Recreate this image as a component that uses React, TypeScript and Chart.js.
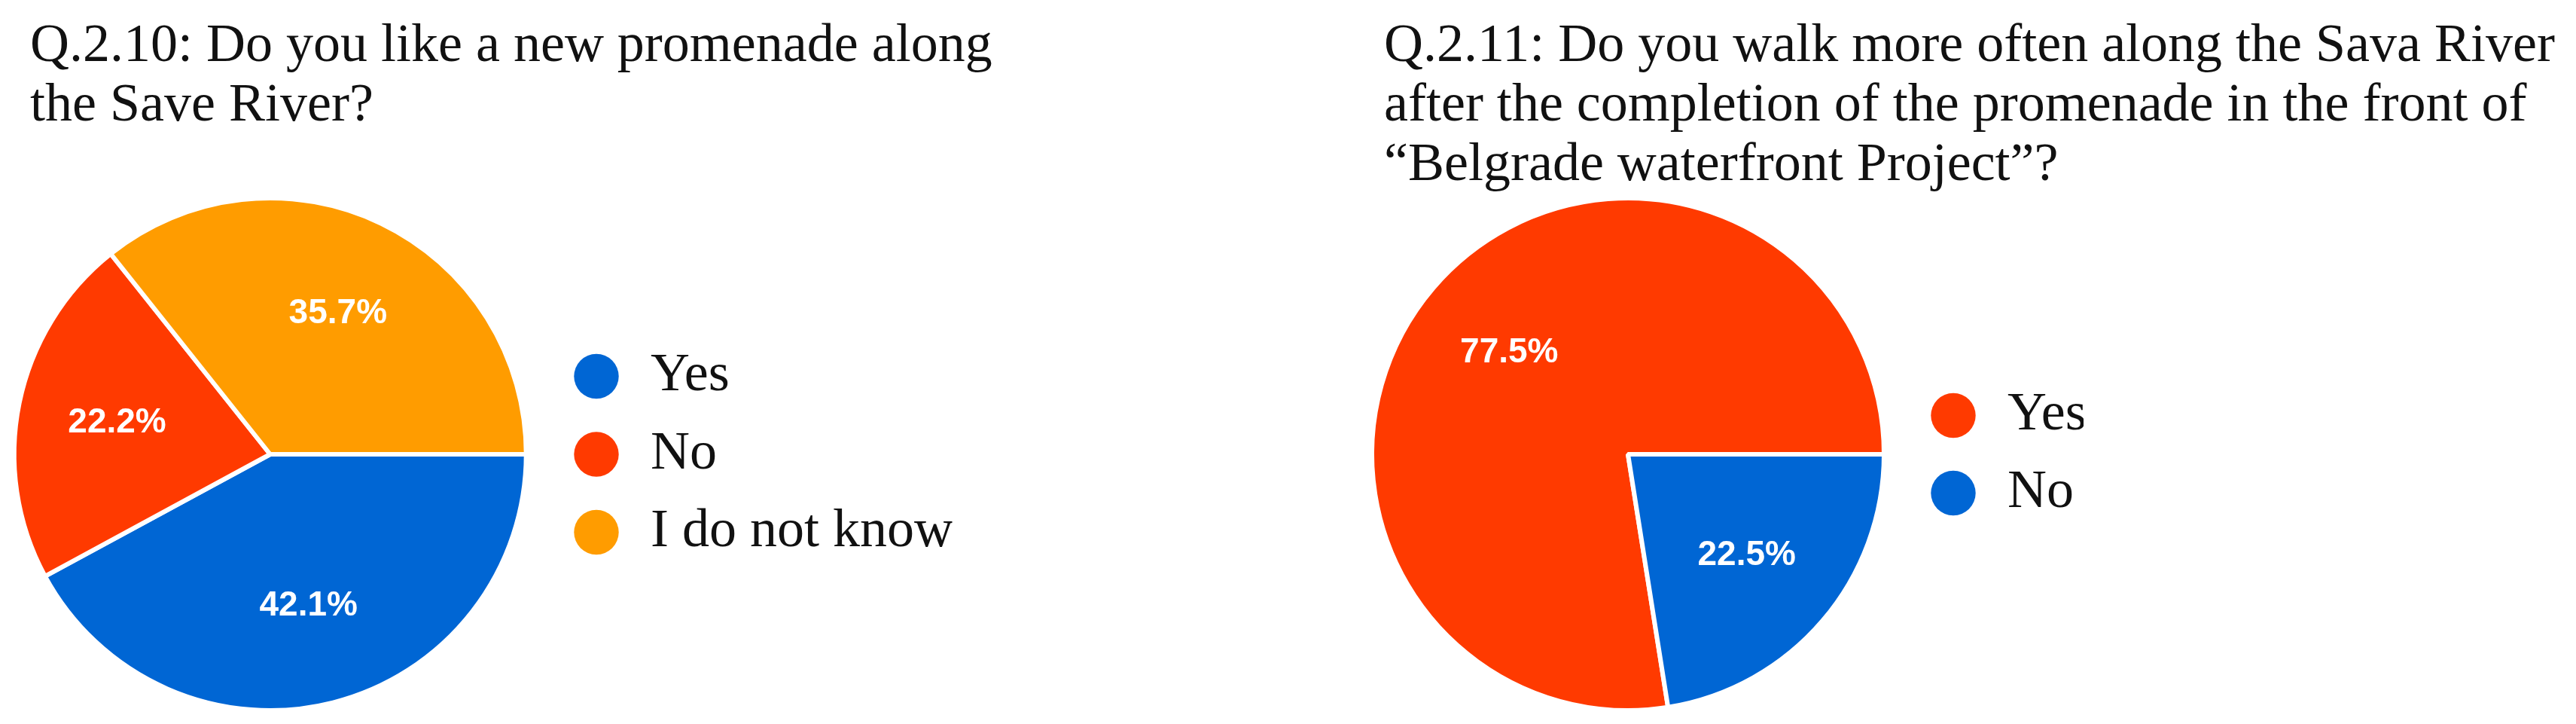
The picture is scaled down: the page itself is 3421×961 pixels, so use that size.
import React, { useEffect, useRef } from 'react';
import { Chart, registerables } from 'chart.js';

Chart.register(...registerables);

// ---------- data ----------
const leftTitle = ['Q.2.10: Do you like a new promenade along', 'the Save River?'];
const leftLabels = ['Yes', 'No', 'I do not know'];
const leftValues = [42.1, 22.2, 35.7];

const rightTitle = [
  'Q.2.11: Do you walk more often along the Sava River',
  'after the completion of the promenade in the front of',
  '\u201CBelgrade waterfront Project\u201D?',
];
const rightLabels = ['Yes', 'No'];
const rightValues = [77.5, 22.5];

// ---------- styles ----------
const BLUE = '#0066d4';
const RED = '#ff3a00';
const ORANGE = '#ff9c00';
const leftColors = [BLUE, RED, ORANGE];
const rightColors = [RED, BLUE];

const SERIF = '"Liberation Serif", "Times New Roman", serif';
const SANS = '"Liberation Sans", Arial, sans-serif';

const pctPlugin = {
  id: 'pctLabels',
  afterDatasetsDraw(chart: any) {
    const ctx = chart.ctx;
    const meta = chart.getDatasetMeta(0);
    const data = chart.data.datasets[0].data as number[];
    ctx.save();
    ctx.fillStyle = '#ffffff';
    ctx.font = `bold 46px ${SANS}`;
    ctx.textAlign = 'center';
    ctx.textBaseline = 'middle';
    meta.data.forEach((arc: any, i: number) => {
      const p = arc.getProps(['x', 'y', 'startAngle', 'endAngle', 'outerRadius'], true);
      const mid = (p.startAngle + p.endAngle) / 2;
      const r = p.outerRadius * 0.61;
      ctx.fillText(data[i].toFixed(1) + '%', p.x + Math.cos(mid) * r, p.y + Math.sin(mid) * r);
    });
    ctx.restore();
  },
};

type PieProps = {
  labels: string[];
  values: number[];
  colors: string[];
  rotation: number;
  left: number;
  width: number;
  padRight: number;
  legendPadding: number;
  legendMaxWidth: number;
};

function PieChart(props: PieProps) {
  const ref = useRef<HTMLCanvasElement | null>(null);
  useEffect(() => {
    if (!ref.current) return;
    const baseGen = (Chart as any).overrides.pie.plugins.legend.labels.generateLabels;
    const chart = new Chart(ref.current, {
      type: 'pie',
      data: {
        labels: props.labels,
        datasets: [
          {
            data: props.values,
            backgroundColor: props.colors,
            borderColor: '#ffffff',
            borderWidth: 6,
            hoverBorderWidth: 6,
            hoverOffset: 0,
          } as any,
        ],
      },
      options: {
        responsive: false,
        animation: false,
        devicePixelRatio: 1,
        rotation: props.rotation,
        events: [],
        layout: { padding: { left: 0, right: props.padRight, top: 260, bottom: 15 } },
        plugins: {
          title: { display: false },
          tooltip: { enabled: false },
          legend: {
            position: 'right',
            align: 'center',
            maxWidth: props.legendMaxWidth,
            labels: {
              usePointStyle: true,
              pointStyle: 'circle',
              boxWidth: 72,
              boxHeight: 42,
              padding: props.legendPadding,
              color: '#111111',
              font: { family: SERIF, size: 72 },
              generateLabels: (c: any) =>
                baseGen(c).map((l: any) => ({ ...l, lineWidth: 0, pointStyle: 'circle' })),
            },
          },
        },
      } as any,
      plugins: [pctPlugin],
    });
    return () => chart.destroy();
  }, []);
  return (
    <canvas
      ref={ref}
      width={props.width}
      height={961}
      style={{ position: 'absolute', left: props.left, top: 0, width: props.width, height: 961 }}
    />
  );
}

function Title({ lines, left }: { lines: string[]; left: number }) {
  return (
    <div
      style={{
        position: 'absolute',
        left,
        top: 18,
        fontFamily: SERIF,
        fontSize: 72,
        lineHeight: '79px',
        color: '#111111',
        whiteSpace: 'nowrap',
      }}
    >
      {lines.map((l) => (
        <div key={l}>{l}</div>
      ))}
    </div>
  );
}

export default function App() {
  const rightRotation = 90 - (360 * rightValues[0]) / (rightValues[0] + rightValues[1]) + 360;
  return (
    <div
      style={{
        position: 'fixed',
        left: 0,
        top: 0,
        width: 3421,
        height: 961,
        background: '#ffffff',
        overflow: 'hidden',
      }}
    >
      <PieChart
        labels={leftLabels}
        values={leftValues}
        colors={leftColors}
        rotation={90}
        left={-7}
        width={1300}
        padRight={28.5}
        legendPadding={31.5}
        legendMaxWidth={540}
      />
      <PieChart
        labels={rightLabels}
        values={rightValues}
        colors={rightColors}
        rotation={rightRotation}
        left={1797}
        width={1000}
        padRight={30}
        legendPadding={31}
        legendMaxWidth={240}
      />
      <Title lines={leftTitle} left={40} />
      <Title lines={rightTitle} left={1838} />
    </div>
  );
}
